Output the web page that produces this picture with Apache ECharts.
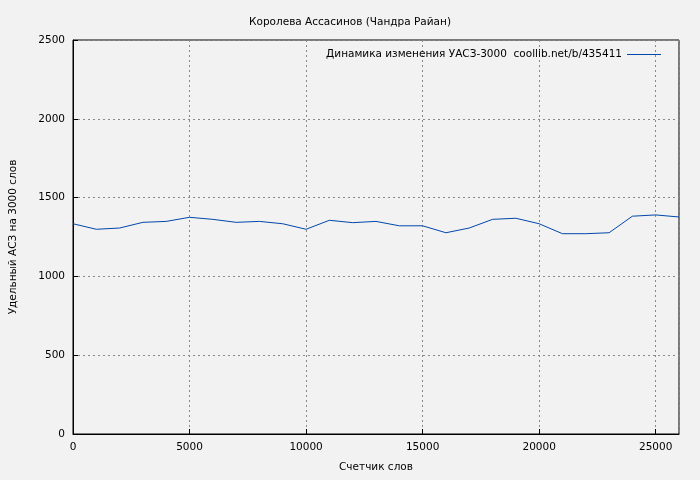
<!DOCTYPE html>
<html><head><meta charset="utf-8">
<script src="https://cdn.jsdelivr.net/npm/echarts@6/dist/echarts.min.js"></script>
<style>html,body{margin:0;background:#f2f2f2}#c{width:700px;height:480px}</style>
</head><body><div id="c"></div>
<script>
const xs = [0,1000,2000,3000,4000,5000,6000,7000,8000,9000,10000,11000,12000,13000,14000,15000,16000,17000,18000,19000,20000,21000,22000,23000,24000,25000,26000];
const vals = [1334,1299,1307,1343,1349,1375,1362,1343,1349,1334,1299,1356,1341,1349,1321,1321,1277,1307,1362,1369,1334,1271,1271,1277,1382,1390,1377];
const seriesName = 'Динамика изменения УАСЗ-3000  coollib.net/b/435411';

const font = 'DejaVu Sans';
const chart = echarts.init(document.getElementById('c'));
chart.setOption({
  backgroundColor: '#f2f2f2',
  animation: false,
  textStyle: {fontFamily: font},
  title: {text: 'Королева Ассасинов (Чандра Райан)', left: 'center', top: 12,
    textStyle: {fontSize: 10.5, fontWeight: 'normal', color: '#000', fontFamily: font}},
  legend: {right: 34, top: 44, itemWidth: 34, itemHeight: 1, icon: 'rect', align: 'right', itemGap: 10,
    textStyle: {fontSize: 10.5, color: '#000', fontFamily: font}, data: [seriesName]},
  grid: {left: 68, right: 21, top: 40, bottom: 46, show: true, borderColor: '#000', borderWidth: 1, backgroundColor: 'transparent'},
  xAxis: {type: 'value', min: 0, max: 26000, interval: 5000,
    name: 'Счетчик слов', nameLocation: 'middle', nameGap: 28,
    nameTextStyle: {fontSize: 10.5, color: '#000'},
    axisLine: {lineStyle: {color: '#000'}}, axisTick: {inside: true, lineStyle: {color: '#000'}},
    axisLabel: {fontSize: 10.5, color: '#000', showMaxLabel: false, formatter: v => String(v)},
    splitLine: {lineStyle: {type: [2, 3], color: '#888'}}},
  yAxis: {type: 'value', min: 0, max: 2500, interval: 500,
    name: 'Удельный АСЗ на 3000 слов', nameLocation: 'middle', nameGap: 54,
    nameTextStyle: {fontSize: 10.5, color: '#000'},
    axisLine: {lineStyle: {color: '#000'}}, axisTick: {inside: true, lineStyle: {color: '#000'}},
    axisLabel: {fontSize: 10.5, color: '#000', formatter: v => String(v)},
    splitLine: {lineStyle: {type: [2, 3], color: '#888'}}},
  series: [{name: seriesName, type: 'line', data: xs.map((x, i) => [x, vals[i]]),
    showSymbol: false, lineStyle: {color: '#0047ab', width: 1}, itemStyle: {color: '#0047ab'}}]
});
</script></body></html>
